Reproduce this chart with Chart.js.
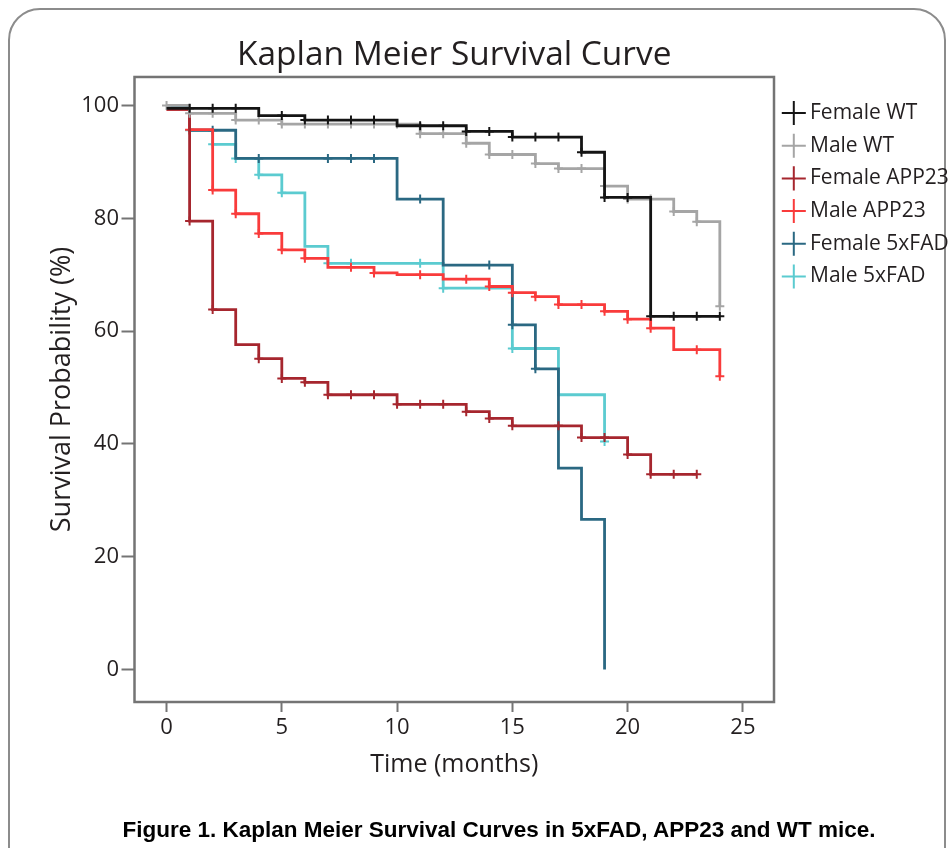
<!DOCTYPE html>
<html>
<head>
<meta charset="utf-8">
<script src="https://cdn.jsdelivr.net/npm/chart.js@4.4.1/dist/chart.umd.min.js"></script>
<style>
html,body{margin:0;padding:0;background:#fff;}
#wrap{position:relative;width:951px;height:848px;overflow:hidden;background:#fff;}
#card{position:absolute;left:8px;top:8px;width:938px;height:920px;border:2px solid #8c8c8c;border-radius:32px;box-sizing:border-box;}
#c{position:absolute;left:0;top:0;}
#caption{position:absolute;left:0;width:998px;top:817px;line-height:26px;text-align:center;font-weight:bold;font-size:22.5px;font-family:"Liberation Sans",Arial,sans-serif;color:#000;white-space:nowrap;}
</style>
</head>
<body>
<div id="wrap">
  <div id="card"></div>
  <canvas id="c" width="951" height="848"></canvas>
  <div id="caption">Figure 1. Kaplan Meier Survival Curves in 5xFAD, APP23 and WT mice.</div>
</div>
<script>
// ---- data (months, survival %, censor marks 1/0) ----
const seriesNames = ["Female WT", "Male WT", "Female APP23", "Male APP23", "Female 5xFAD", "Male 5xFAD"];

const femaleWT_t = [0,1,2,3,4,5,6,7,8,9,10,11,12,13,14,15,16,17,18,19,20,21,22,23,24];
const femaleWT_s = [99.5,99.5,99.5,99.5,98.2,98.2,97.4,97.4,97.4,97.4,96.4,96.4,96.4,95.4,95.4,94.4,94.4,94.4,91.7,83.7,83.7,62.6,62.6,62.6,62.6];
const femaleWT_c = [0,1,1,1,0,1,1,1,1,1,0,1,1,1,1,1,1,1,1,1,1,1,1,1,1];

const maleWT_t = [0,1,2,3,4,5,6,7,8,9,10,11,12,13,14,15,16,17,18,19,20,21,22,23,24];
const maleWT_s = [100,98.6,98.6,97.4,97.4,96.7,96.7,96.7,96.7,96.7,96.7,95.0,95.0,93.3,91.3,91.3,89.7,88.8,88.8,85.7,83.4,83.4,81.2,79.4,64.4];
const maleWT_c = [1,1,1,1,1,1,1,1,1,1,1,1,1,1,1,1,1,1,1,1,1,1,1,1,1];

const femaleAPP_t = [0,1,2,3,4,5,6,7,8,9,10,11,12,13,14,15,16,17,18,19,20,21,22,23];
const femaleAPP_s = [99.3,79.5,63.8,57.6,55.1,51.6,50.9,48.7,48.7,48.7,47.0,47.0,47.0,45.7,44.5,43.2,43.2,43.2,41.1,41.1,38.1,34.6,34.6,34.6];
const femaleAPP_c = [0,1,1,0,1,1,1,1,1,1,1,1,1,1,1,1,0,1,1,1,1,1,1,1];

const maleAPP_t = [0,1,2,3,4,5,6,7,8,9,10,11,12,13,14,15,16,17,18,19,20,21,22,23,24];
const maleAPP_s = [99.3,95.7,85.0,80.8,77.3,74.4,72.9,71.3,71.3,70.3,70.0,70.0,69.2,69.2,67.9,66.8,66.1,64.7,64.7,63.5,62.1,60.5,56.7,56.7,52.0];
const maleAPP_c = [0,1,1,1,1,1,1,0,1,1,0,1,0,1,1,1,1,1,1,1,1,1,0,1,1];

const femaleFAD_t = [0,1,2,3,4,7,8,9,10,11,12,14,15,16,17,18,19];
const femaleFAD_s = [100,95.6,95.6,90.6,90.6,90.6,90.6,90.6,83.4,83.4,71.7,71.7,61.1,53.3,35.7,26.6,0];
const femaleFAD_c = [0,0,1,0,1,1,1,1,0,1,0,1,1,1,0,0,0];

const maleFAD_t = [0,1,2,3,4,5,6,7,8,11,12,15,17,19];
const maleFAD_s = [100,95.6,93.1,90.6,87.7,84.5,75.0,72.0,72.0,72.0,67.6,56.9,48.7,40.4];
const maleFAD_c = [0,1,1,1,1,1,0,1,1,1,1,1,0,1];

const xTickValues = [0,5,10,15,20,25];
const yTickValues = [0,20,40,60,80,100];

// ---- styling ----
const colors = ["#141414", "#a5a5a5", "#a6262e", "#f93b3b", "#2a6882", "#5bcbd0"];
const textColor = "#231f20";
const axisGray = "#747474";

function makeSet(i, t, s, c) {
  return {
    label: seriesNames[i],
    data: t.map((x, k) => ({x: x, y: s[k]})),
    borderColor: colors[i],
    backgroundColor: colors[i],
    borderWidth: 2.8,
    stepped: 'before',
    fill: false,
    pointStyle: 'cross',
    pointRadius: c.map(m => m ? 4.5 : 0),
    pointHoverRadius: 0,
    pointBorderWidth: 2,
    pointBorderColor: colors[i],
    tension: 0
  };
}

const datasets = [
  makeSet(0, femaleWT_t, femaleWT_s, femaleWT_c),
  makeSet(1, maleWT_t, maleWT_s, maleWT_c),
  makeSet(2, femaleAPP_t, femaleAPP_s, femaleAPP_c),
  makeSet(3, maleAPP_t, maleAPP_s, maleAPP_c),
  makeSet(4, femaleFAD_t, femaleFAD_s, femaleFAD_c),
  makeSet(5, maleFAD_t, maleFAD_s, maleFAD_c)
];

const framePlugin = {
  id: 'frame',
  beforeDatasetsDraw(chart) {
    const {ctx, chartArea: a} = chart;
    ctx.save();
    ctx.strokeStyle = axisGray;
    ctx.lineWidth = 2.5;
    ctx.strokeRect(a.left, a.top, a.right - a.left, a.bottom - a.top);
    ctx.restore();
  }
};

Chart.defaults.font.family = "'Open Sans', 'Noto Sans', sans-serif";
Chart.defaults.color = textColor;

new Chart(document.getElementById('c'), {
  type: 'line',
  data: {datasets: datasets},
  plugins: [framePlugin],
  options: {
    responsive: false,
    animation: false,
    devicePixelRatio: 1,
    layout: {padding: {left: 0, top: 0, right: 1.0, bottom: 0}},
    scales: {
      x: {
        type: 'linear',
        min: -1.39,
        max: 26.35,
        afterBuildTicks(s) { s.ticks = xTickValues.map(v => ({value: v})); },
        afterFit(s) { s.height = 146; },
        grid: {display: true, drawOnChartArea: false, drawTicks: true, tickLength: 10, tickColor: axisGray, tickWidth: 2},
        border: {display: false},
        ticks: {font: {size: 22}, color: textColor, padding: 2.5, maxRotation: 0},
        title: {display: true, text: 'Time (months)', font: {size: 25}, color: textColor, padding: {top: 0, bottom: 68}}
      },
      y: {
        type: 'linear',
        min: -5.78,
        max: 105.05,
        afterBuildTicks(s) { s.ticks = yTickValues.map(v => ({value: v})); },
        afterFit(s) { s.width = 134.5; },
        grid: {display: true, drawOnChartArea: false, drawTicks: true, tickLength: 13, tickColor: axisGray, tickWidth: 2},
        border: {display: false},
        ticks: {font: {size: 22}, color: textColor, padding: 2.5},
        title: {display: true, text: 'Survival Probability (%)', font: {size: 27}, color: textColor, padding: {top: 46.3, bottom: 0}}
      },
      y2: {
        type: 'linear',
        position: 'right',
        display: true,
        grid: {display: false},
        border: {display: false},
        ticks: {display: false},
        afterFit(s) { s.width = 2.4; }
      }
    },
    plugins: {
      title: {
        display: true,
        text: 'Kaplan Meier Survival Curve',
        fullSize: false,
        font: {size: 33.4, weight: 'normal'},
        color: textColor,
        padding: {top: 35, bottom: 1.9}
      },
      legend: {
        position: 'right',
        align: 'start',
        fullSize: false,
        maxWidth: 173.6,
        title: {display: true, text: ' ', font: {size: 10}, padding: {top: 1.8, bottom: 0}},
        labels: {usePointStyle: true, boxWidth: 11.4, boxHeight: 17, padding: 11.7, font: {size: 21}, color: textColor}
      },
      tooltip: {enabled: false}
    }
  }
});
</script>
</body>
</html>
